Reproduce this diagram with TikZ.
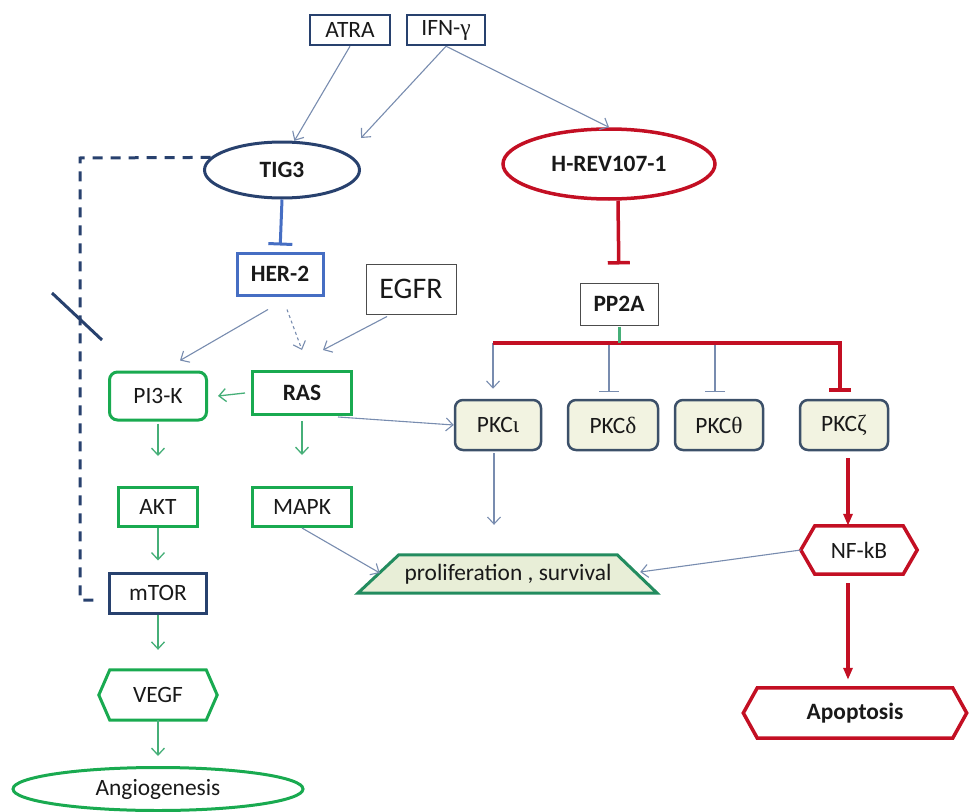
\documentclass[tikz,border=0pt]{standalone}
\usepackage{fontspec}
\setmainfont{Carlito}
\newfontfamily\grk{Liberation Serif}
\usetikzlibrary{shapes.geometric,arrows.meta,calc}
\pgfdeclarelayer{background}
\pgfsetlayers{background,main}
\definecolor{dkblue}{RGB}{40,65,110}
\definecolor{herblue}{RGB}{70,110,195}
\definecolor{grn}{RGB}{25,170,80}
\definecolor{grnarr}{RGB}{70,175,120}
\definecolor{thinc}{RGB}{120,140,175}
\definecolor{redc}{RGB}{195,15,35}
\definecolor{pkcborder}{RGB}{60,80,105}
\definecolor{pkcfill}{RGB}{242,243,225}
\definecolor{prolborder}{RGB}{35,140,95}
\definecolor{prolfill}{RGB}{232,238,215}
\definecolor{txt}{RGB}{25,25,25}
\tikzset{
  base/.style={inner sep=0pt, text=txt, font=\fontsize{23.5}{27}\selectfont, align=center},
  dkbox/.style={base, rectangle, draw=dkblue, line width=2.5bp},
  grnbox/.style={base, rectangle, draw=grn, line width=3bp},
  greybox/.style={base, rectangle, draw=black!70, line width=1bp},
  pkcbox/.style={base, rectangle, rounded corners=8bp, draw=pkcborder, fill=pkcfill, line width=2.5bp, minimum height=50bp},
  thinarr/.style={draw=thinc, line width=1.1bp, -{Straight Barb[length=7bp,width=13bp]}},
  grnarrow/.style={draw=grnarr, line width=1.3bp, -{Straight Barb[length=7bp,width=13bp]}},
  thininh/.style={draw=thinc, line width=1.1bp, -{Bar[width=20bp,line width=1.1bp]}},
  redarr/.style={draw=redc, line width=3.2bp, -{Triangle[length=12bp,width=9bp]}},
  redinh/.style={draw=redc, line width=3.5bp, -{Bar[width=22bp,line width=3.5bp]}},
  blueinh/.style={draw=herblue, line width=3bp, -{Bar[width=24bp,line width=3bp]}},
  bolded/.style={font=\fontsize{23.5}{27}\selectfont\bfseries}
}
\begin{document}
\begin{tikzpicture}[x=1bp,y=-1bp]
\useasboundingbox (0,0) rectangle (970,812);
% nodes
\node[dkbox, minimum width=80bp, minimum height=30bp] (atra) at (350,30) {ATRA};
\node[dkbox, minimum width=78bp, minimum height=30bp] (ifn) at (446,30) {IFN-{\grk γ}};
\node[base, ellipse, draw=dkblue, line width=3bp, minimum width=155bp, minimum height=56bp, bolded] (tig3) at (282,170) {TIG3};
\node[base, rectangle, draw=herblue, line width=3bp, minimum width=86bp, minimum height=42bp, bolded] (her2) at (280,274) {HER-2};
\node[greybox, minimum width=90bp, minimum height=50bp, font=\fontsize{30}{34}\selectfont] (egfr) at (411,289) {EGFR};
\node[grnbox, rounded corners=8bp, minimum width=97bp, minimum height=48bp] (pi3k) at (158,396) {PI3-K};
\node[grnbox, minimum width=99bp, minimum height=43bp, bolded] (ras) at (302,393) {RAS};
\node[grnbox, minimum width=79bp, minimum height=39bp] (akt) at (158,507) {AKT};
\node[grnbox, minimum width=99bp, minimum height=39bp] (mapk) at (302,507) {MAPK};
\node[dkbox, line width=3bp, minimum width=97bp, minimum height=40bp] (mtor) at (158,593) {mTOR};
\node[base, minimum width=96bp, minimum height=50bp] (vegf) at (158,695) {VEGF};
\node[base, ellipse, draw=grn, line width=3bp, minimum width=290bp, minimum height=43bp] (angio) at (158,789) {Angiogenesis};
\node[base, ellipse, draw=redc, line width=3.5bp, minimum width=212bp, minimum height=70bp, bolded] (hrev) at (609,164) {H-REV107-1};
\node[greybox, minimum width=78bp, minimum height=42bp, bolded] (pp2a) at (619,304) {PP2A};
\node[pkcbox, minimum width=86bp] (pkci) at (498,425) {PKC{\grk ι}};
\node[pkcbox, minimum width=90bp] (pkcd) at (613,425) {PKC{\grk δ}};
\node[pkcbox, minimum width=88bp] (pkct) at (719,425) {PKC{\grk θ}};
\node[pkcbox, minimum width=88bp] (pkcz) at (844,425) {PKC{\grk ζ}};
\node[base, minimum width=218bp, minimum height=38bp] (prolif) at (508,574) {proliferation , survival};
\node[base, minimum width=88bp, minimum height=48bp] (nfkb) at (859,550) {NF-kB};
\node[base, minimum width=195bp, minimum height=50bp, bolded] (apop) at (855,713) {Apoptosis};
% shapes drawn around text nodes
\begin{pgfonlayer}{background}
\draw[draw=grn, line width=3bp] (vegf.north west) -- (vegf.north east) -- ($(vegf.east)+(11,0)$) -- (vegf.south east) -- (vegf.south west) -- ($(vegf.west)+(-11,0)$) -- cycle;
\draw[draw=redc, line width=3.5bp] (nfkb.north west) -- (nfkb.north east) -- ($(nfkb.east)+(14,0)$) -- (nfkb.south east) -- (nfkb.south west) -- ($(nfkb.west)+(-14,0)$) -- cycle;
\draw[draw=redc, line width=3.5bp] (apop.north west) -- (apop.north east) -- ($(apop.east)+(14,0)$) -- (apop.south east) -- (apop.south west) -- ($(apop.west)+(-14,0)$) -- cycle;
\draw[draw=prolborder, fill=prolfill, line width=3bp] (prolif.north west) -- (prolif.north east) -- ($(prolif.south east)+(40,0)$) -- ($(prolif.south west)+(-41,0)$) -- cycle;
\end{pgfonlayer}
% coordinates
\coordinate (tigin) at (361,138);
\coordinate (busL) at (493,343);
\coordinate (busD) at (609,343);
\coordinate (busT) at (715,343);
\coordinate (busR) at (840,343);
\coordinate (zx) at ($(pkcz.south)+(4,0)$);
\coordinate (corner1) at (80,158);
\coordinate (corner2) at (80,600);
\coordinate (dashend) at (100,600);
% connectors
\draw[thinarr] (atra.south) -- (tig3.67);
\draw[thinarr] (ifn.south) -- (tigin);
\draw[thinarr] (ifn.south) -- (hrev.north);
\draw[dkblue, line width=3bp, dash pattern=on 10bp off 8bp] (tig3.170) -- (corner1) -- (corner2) -- (dashend);
\draw[dkblue, line width=3bp] (52,293) -- (102,340);
\draw[blueinh, shorten >=6bp] (tig3.south) -- (her2.north);
\draw[redinh, shorten >=18bp] (hrev.south) ++(9,0) -- ($(pp2a.north)+(0,0)$);
\draw[thinarr] ($(her2.south)+(-12,13)$) -- ($(pi3k.north)+(22,-10)$);
\draw[thinarr, dashed] ($(her2.south)+(7,13)$) -- ($(ras.north)+(0,-20)$);
\draw[thinarr] ($(egfr.south)+(-24,2)$) -- ($(ras.north)+(21,-20)$);
\draw[grnarrow] ($(ras.west)+(-6,0)$) -- ($(pi3k.east)+(10,0)$);
\draw[thinarr] ($(ras.south east)+(-15,1)$) -- (pkci.west);
\draw[grnarrow] ($(pi3k.south)+(0,2)$) -- ($(akt.north)+(0,-30)$);
\draw[grnarrow] ($(ras.south)+(0,5)$) -- ($(mapk.north)+(0,-31)$);
\draw[grnarrow] (akt.south) -- ($(mtor.north)+(0,-11)$);
\draw[grnarrow] (mtor.south) -- ($(vegf.north)+(0,-20)$);
\draw[grnarrow] (vegf.south) -- ($(angio.north)+(0,-10)$);
\draw[thinarr] (mapk.south) -- ($(prolif.west)+(-19,-1)$);
\draw[thinarr] ($(pkci.south)+(-4,2)$) -- ($(pkci.south |- prolif.north)+(-4,-30)$);
\draw[thinarr] ($(nfkb.west)+(-14,0)$) -- ($(prolif.east)+(23,-2)$);
\draw[thinarr, shorten >=10bp] (busL) -- (busL |- pkci.north);
\draw[thininh, shorten >=7bp] (busD) -- (busD |- pkcd.north);
\draw[thininh, shorten >=7bp] (busT) -- (busT |- pkct.north);
\draw[redinh, shorten >=7bp] (busL) -- (busR) -- (busR |- pkcz.north);
\draw[draw=grnarr, line width=3bp] ($(pp2a.south)+(0,1)$) -- (pp2a.south |- busL);
\draw[redarr] ($(zx)+(0,7)$) -- (zx |- nfkb.north);
\draw[redarr] ($(zx |- nfkb.south)+(0,9)$) -- ($(zx |- apop.north)+(0,-8)$);
\end{tikzpicture}
\end{document}
